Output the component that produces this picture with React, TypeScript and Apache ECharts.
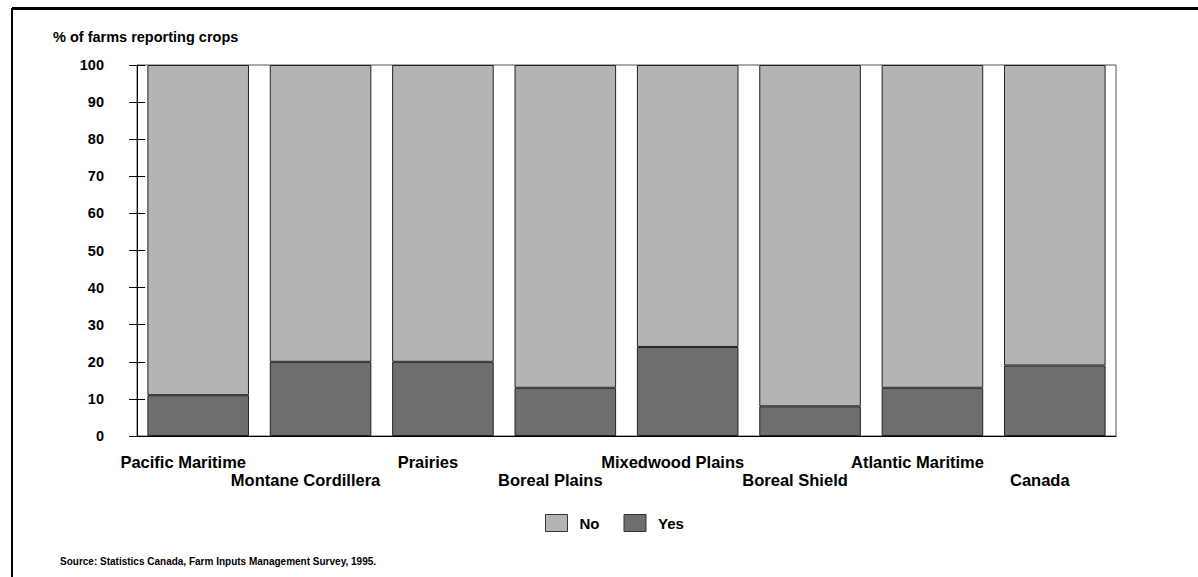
import React, { useEffect, useRef } from "react";
import * as echarts from "echarts";

const categories = [
  "Pacific Maritime",
  "Montane Cordillera",
  "Prairies",
  "Boreal Plains",
  "Mixedwood Plains",
  "Boreal Shield",
  "Atlantic Maritime",
  "Canada",
];
const yesValues = [11, 20, 20, 13, 24, 8, 13, 19];
const noValues = [89, 80, 80, 87, 76, 92, 87, 81];
const yAxisTitle = "% of farms reporting crops";
const sourceNote = "Source: Statistics Canada, Farm Inputs Management Survey, 1995.";

const FONT = "'Liberation Sans', Arial, Helvetica, sans-serif";

export default function App() {
  const ref = useRef<HTMLDivElement>(null);
  useEffect(() => {
    if (!ref.current) return;
    const chart = echarts.init(ref.current, undefined, { renderer: "svg" });
    chart.setOption({
      animation: false,
      backgroundColor: "#ffffff",
      textStyle: { fontFamily: FONT },
      grid: {
        left: 137,
        right: 82,
        top: 65,
        bottom: 141,
        show: true,
        borderColor: "#555555",
        borderWidth: 1,
        backgroundColor: "transparent",
      },
      legend: {
        left: 540,
        top: 509,
        icon: "rect",
        itemWidth: 22,
        itemHeight: 17,
        itemGap: 24,
        data: ["No", "Yes"],
        itemStyle: { borderColor: "#333", borderWidth: 1 },
        textStyle: {
          fontFamily: FONT,
          fontSize: 15,
          fontWeight: "bold",
          color: "#000",
          padding: [0, 0, 0, 7],
        },
      },
      xAxis: {
        type: "category",
        data: categories,
        axisLine: { lineStyle: { color: "#000", width: 1 } },
        axisTick: { show: false },
        axisLabel: {
          interval: 0,
          margin: 17,
          fontFamily: FONT,
          fontSize: 16.5,
          fontWeight: "bold",
          color: "#000",
          lineHeight: 18,
          padding: [0, 30, 0, 0],
          formatter: (v: string, i: number) => (i % 2 === 1 ? "\n" + v : v),
        },
      },
      yAxis: [
        {
          type: "value",
          min: 0,
          max: 100,
          interval: 10,
          splitLine: { show: false },
          axisLine: { show: true, lineStyle: { color: "#000", width: 1 } },
          axisTick: { show: true, length: 8, lineStyle: { color: "#000" } },
          axisLabel: {
            margin: 33,
            fontFamily: FONT,
            fontSize: 14.5,
            fontWeight: "bold",
            color: "#000",
          },
        },
        {
          type: "value",
          min: 0,
          max: 100,
          interval: 10,
          position: "left",
          offset: 0,
          splitLine: { show: false },
          axisLine: { show: false },
          axisTick: { show: true, inside: true, length: 8, lineStyle: { color: "#000" } },
          axisLabel: { show: false },
        },
      ],
      series: [
        {
          name: "Yes",
          type: "bar",
          stack: "total",
          data: yesValues,
          barCategoryGap: "17%",
          itemStyle: { color: "#6e6e6e", borderColor: "#222", borderWidth: 1 },
        },
        {
          name: "No",
          type: "bar",
          stack: "total",
          data: noValues,
          barCategoryGap: "17%",
          itemStyle: { color: "#b4b4b4", borderColor: "#222", borderWidth: 1 },
        },
      ],
      graphic: [
        {
          type: "line",
          shape: { x1: 12, y1: 8.5, x2: 1198, y2: 8.5 },
          style: { stroke: "#000", lineWidth: 3 },
        },
        {
          type: "line",
          shape: { x1: 12, y1: 8, x2: 12, y2: 577 },
          style: { stroke: "#000", lineWidth: 2 },
        },
        {
          type: "text",
          left: 53,
          top: 29,
          style: {
            text: yAxisTitle,
            fontFamily: FONT,
            fontSize: 14.5,
            fontWeight: "bold",
            fill: "#000",
          },
        },
        {
          type: "text",
          left: 60,
          top: 556,
          style: {
            text: sourceNote,
            fontFamily: FONT,
            fontSize: 10,
            fontWeight: "bold",
            fill: "#000",
          },
        },
      ],
    });
    return () => chart.dispose();
  }, []);
  return (
    <div
      ref={ref}
      style={{ position: "absolute", left: 0, top: 0, width: 1198, height: 577 }}
    />
  );
}
